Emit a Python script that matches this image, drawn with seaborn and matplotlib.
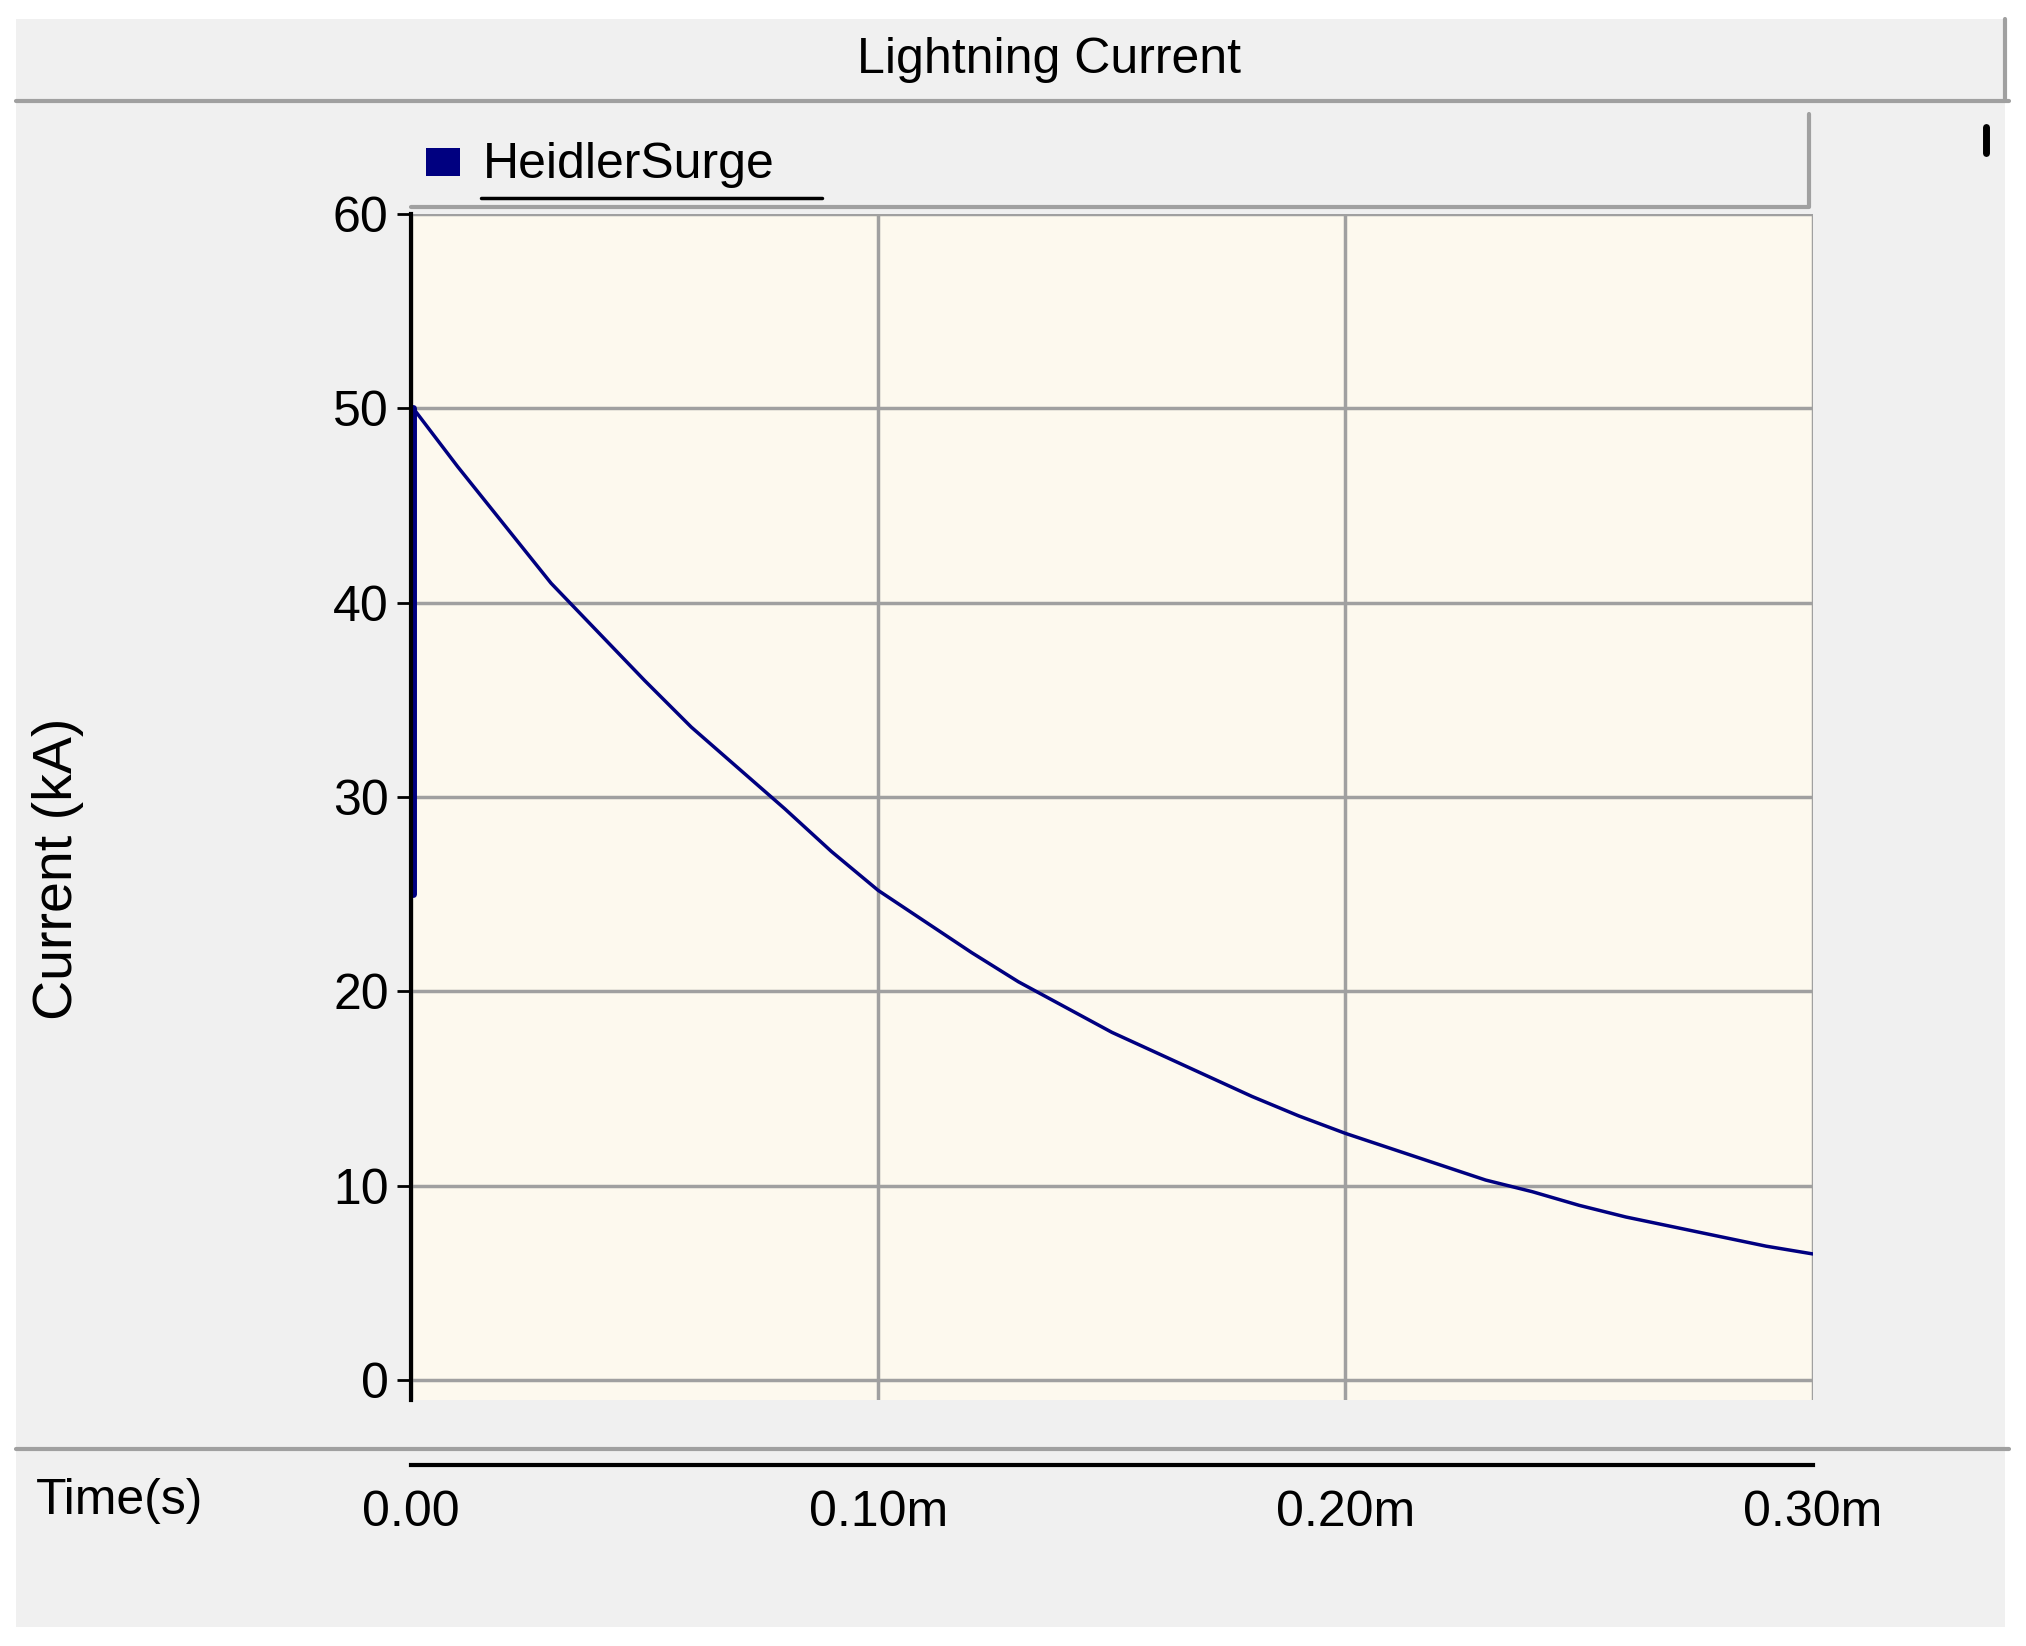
import matplotlib
matplotlib.use("Agg")
import matplotlib.pyplot as plt
import seaborn as sns
import pandas as pd
from matplotlib.patches import Rectangle
from matplotlib.lines import Line2D

sns.set_style("white")
plt.rcParams['font.family'] = ['Liberation Sans', 'DejaVu Sans']
plt.rcParams['text.color'] = 'black'
plt.rcParams['xtick.color'] = 'black'
plt.rcParams['ytick.color'] = 'black'

time_ms = [0.0, 0.0005, 0.01, 0.02, 0.03, 0.04, 0.05, 0.06, 0.07, 0.08, 0.09, 0.10,
           0.11, 0.12, 0.13, 0.14, 0.15, 0.16, 0.17, 0.18, 0.19, 0.20, 0.21, 0.22,
           0.23, 0.24, 0.25, 0.26, 0.27, 0.28, 0.29, 0.30]
current_ka = [25.0, 50.0, 47.0, 44.0, 41.0, 38.5, 36.0, 33.6, 31.5, 29.4, 27.2, 25.2,
              23.6, 22.0, 20.5, 19.2, 17.9, 16.8, 15.7, 14.6, 13.6, 12.7, 11.9, 11.1,
              10.3, 9.7, 9.0, 8.4, 7.9, 7.4, 6.9, 6.5]
y_ticks = [0, 10, 20, 30, 40, 50, 60]
x_ticks = [0.0, 0.1, 0.2, 0.3]
x_labels = ["0.00", "0.10m", "0.20m", "0.30m"]
df = pd.DataFrame({"t": time_ms, "i": current_ka})

W, H = 1568, 1270
fig = plt.figure(figsize=(20.26, 16.46), dpi=100)
fig.patch.set_facecolor("white")
def fx(x): return x / W
def fy(y): return 1 - y / H

FS = 36

fig.add_artist(Rectangle((fx(12), fy(1255)), fx(1540), fy(78) - fy(1255), transform=fig.transFigure,
                         facecolor="#f0f0f0", edgecolor="none", zorder=0))
fig.add_artist(Rectangle((fx(12), fy(78)), fx(1540), fy(15) - fy(78), transform=fig.transFigure,
                         facecolor="#f0f0f0", edgecolor="none", zorder=0))
for yy in (78, 1118):
    fig.add_artist(Line2D([fx(12), fx(1555)], [fy(yy), fy(yy)], transform=fig.transFigure,
                          color="#a0a0a0", lw=3))
fig.add_artist(Line2D([fx(1552), fx(1552)], [fy(15), fy(78)], transform=fig.transFigure, color="#a0a0a0", lw=3))
fig.text(fx(812), fy(46), "Lightning Current", ha="center", va="center", fontsize=FS)

fig.add_artist(Rectangle((fx(318), fy(160)), fx(1400 - 318), fy(88) - fy(160), transform=fig.transFigure,
                         facecolor="#f0f0f0", edgecolor="none", zorder=1))
fig.add_artist(Line2D([fx(318), fx(1400), fx(1400)], [fy(160), fy(160), fy(88)], transform=fig.transFigure,
                      color="#a0a0a0", lw=3))
fig.add_artist(Rectangle((fx(330), fy(136)), fx(26), fy(114) - fy(136), transform=fig.transFigure,
                         facecolor="#000080", edgecolor="none", zorder=2))
fig.text(fx(374), fy(127), "HeidlerSurge", ha="left", va="center", fontsize=FS)
fig.add_artist(Line2D([fx(372), fx(636)], [fy(153), fy(153)], transform=fig.transFigure, color="black", lw=2.5))
fig.add_artist(Line2D([fx(1537), fx(1537)], [fy(98), fy(118)], transform=fig.transFigure, color="black", lw=5))

ax = fig.add_axes([fx(318), fy(1080), fx(1403 - 318), fy(165) - fy(1080)])
ax.set_facecolor("#fdf9ee")
sns.lineplot(data=df, x="t", y="i", ax=ax, color="#000080", lw=2.5)
ax.plot([0.0005, 0.0005], [25, 50], color="#000080", lw=5)
ax.set_xlim(0, 0.3)
ax.set_ylim(-1, 60)
ax.set_yticks(y_ticks)
ax.set_yticklabels([str(v) for v in y_ticks], fontsize=FS)
ax.set_xticks(x_ticks)
ax.set_xticklabels([])
ax.tick_params(axis="x", length=0)
ax.tick_params(axis="y", length=10, width=2, left=True, pad=6)
ax.grid(True, color="#a0a0a0", lw=2.5)
ax.set_axisbelow(True)
for s in ["top", "right", "bottom"]:
    ax.spines[s].set_visible(False)
ax.spines["left"].set_color("black")
ax.spines["left"].set_linewidth(3)
ax.set_xlabel("")
ax.set_ylabel("")
fig.text(fx(45), fy(670), "Current (kA)", rotation=90, ha="center", va="center", fontsize=40)

tax = fig.add_axes([fx(318), fy(1130), fx(1403 - 318), 0.0001])
tax.set_facecolor("none")
tax.set_xlim(0, 0.3)
tax.set_yticks([])
tax.set_xticks(x_ticks)
tax.set_xticklabels(x_labels, fontsize=FS)
tax.tick_params(axis="x", direction="inout", length=16, width=2.5, pad=10)
for s in ["top", "right", "left"]:
    tax.spines[s].set_visible(False)
tax.spines["bottom"].set_linewidth(3)
tax.spines["bottom"].set_color("black")
fig.text(fx(28), fy(1158), "Time(s)", ha="left", va="center", fontsize=FS)

fig.savefig("out.png", dpi=100)
